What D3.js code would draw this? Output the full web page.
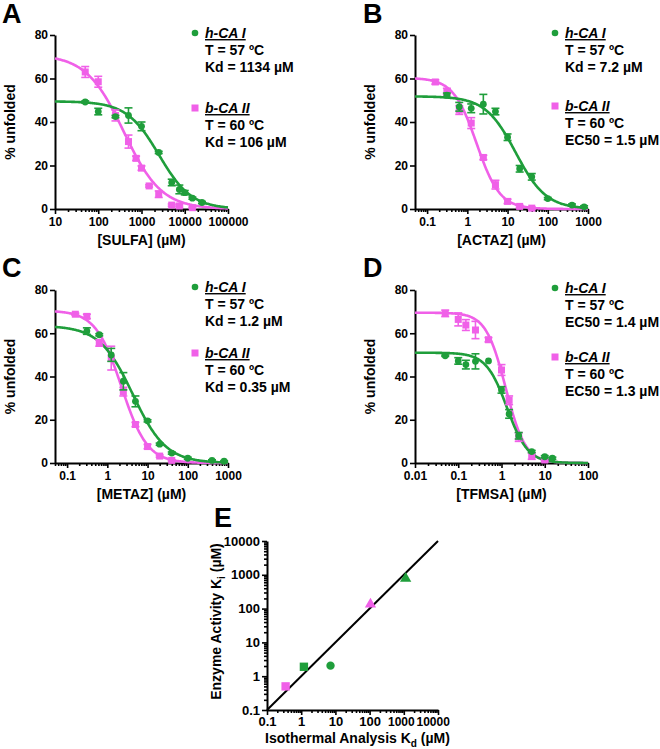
<!DOCTYPE html>
<html><head><meta charset="utf-8">
<script src="https://cdn.jsdelivr.net/npm/d3@7"></script>
<style>
body{margin:0;background:#fff;}
svg text{font-family:"Liberation Sans",Arial,Helvetica,sans-serif;font-weight:bold;}
</style></head><body>
<svg id="chart" width="660" height="749"></svg>
<script>
// ---------------- DATA ----------------
const yTicks = [0, 20, 40, 60, 80];
const sulfaTicks = [10, 100, 1000, 10000, 100000];
const actazTicks = [0.1, 1, 10, 100, 1000];
const metazTicks = [0.1, 1, 10, 100, 1000];
const tfmsaTicks = [0.01, 0.1, 1, 10, 100];
const eTicks = [0.1, 1, 10, 100, 1000, 10000];

// Panel A: SULFA
const sulfaX_h = [50, 100, 250, 500, 1000, 2500, 5000, 7500, 10000, 15000, 25000];
const sulfaY_h = [49.2, 44.8, 42.5, 43, 38, 26, 12.2, 9, 7.5, 5, 3];
const sulfaE_h = [0.5, 1.5, 0.5, 3.5, 2, 0.5, 1.5, 2, 1, 0.5, 0.5];
const sulfaX_b = [50, 100, 250, 500, 750, 1000, 1500, 2500, 5000, 7500, 15000];
const sulfaY_b = [63, 58.5, 43, 31, 23.3, 18.8, 10.6, 6.8, 1.8, 1.4, 0.6];
const sulfaE_b = [2.5, 2.5, 2.5, 3, 1, 1, 0.5, 1.5, 0.5, 0.5, 0.3];
const sulfaFit_h = [49.5, 2557, 1.155];   // top, EC50, hill
const sulfaFit_b = [71, 390, 1.0];

// Panel B: ACTAZ
const actazX_h = [0.31, 0.63, 1.25, 2.5, 5, 10, 20, 40, 100, 400, 800];
const actazY_h = [52.3, 47, 46.3, 48.2, 44.8, 33, 18.5, 14.8, 4.8, 1.8, 1.0];
const actazE_h = [1, 2, 2, 4.5, 1.5, 1.5, 1.5, 1.5, 0.5, 0.5, 0.5];
const actazX_b = [0.16, 0.31, 0.63, 1.25, 2.5, 5, 10, 20, 40];
const actazY_b = [58.4, 54, 45.5, 39.5, 23.7, 11.2, 3.5, 1.2, 0.4];
const actazE_b = [1, 1.5, 2, 2.5, 1, 2, 1, 0.5, 0.5];
const actazFit_h = [51.8, 16, 1.15];
const actazFit_b = [60.3, 1.7, 1.5];

// Panel C: METAZ
const metazX_h = [0.31, 0.63, 1.25, 2.5, 5, 10, 20, 40, 100, 400, 800];
const metazY_h = [61, 59.3, 50, 37.8, 28.5, 19.5, 8.7, 4.6, 2.2, 1.2, 0.8];
const metazE_h = [1.5, 0.5, 3, 4, 2.5, 0.5, 0.5, 0.5, 0.5, 0.3, 0.3];
const metazX_b = [0.16, 0.31, 0.63, 1.25, 2.5, 5, 10, 20, 40];
const metazY_b = [68.8, 67.8, 55.5, 48.5, 33, 17.8, 7.6, 3.2, 1.2];
const metazE_b = [0.5, 1, 1.5, 5.5, 2, 1, 1, 0.5, 0.3];
const metazFit_h = [63.5, 4.3, 1.05];
const metazFit_b = [70.5, 2.25, 1.35];

// Panel D: TFMSA
const tfmsaX_h = [0.05, 0.1, 0.15, 0.25, 0.5, 1, 1.5, 2.5, 5, 10, 15];
const tfmsaY_h = [49.6, 47.2, 45.5, 47, 47.2, 33.8, 22.7, 12.6, 5.3, 2.9, 2.2];
const tfmsaE_h = [0.3, 1.5, 2, 3.5, 0, 1.5, 2, 1.5, 0.5, 0.5, 0.5];
const tfmsaX_b = [0.05, 0.1, 0.15, 0.25, 0.5, 1, 1.5, 2.5, 5, 10];
const tfmsaY_b = [69.2, 66.4, 63.8, 61.5, 57, 43, 29, 12, 3.2, 1.4];
const tfmsaE_b = [1.5, 3, 2.5, 4, 1, 2.5, 2, 2, 1.5, 0.5];
const tfmsaFit_h = [51, 1.345, 1.8];
const tfmsaFit_b = [69.5, 1.25, 1.9];

// Legends
const legendA_h = ["h-CA I", "T = 57 ºC", "Kd = 1134 µM"];
const legendA_b = ["b-CA II", "T = 60 ºC", "Kd = 106 µM"];
const legendB_h = ["h-CA I", "T = 57 ºC", "Kd = 7.2 µM"];
const legendB_b = ["b-CA II", "T = 60 ºC", "EC50 = 1.5 µM"];
const legendC_h = ["h-CA I", "T = 57 ºC", "Kd = 1.2 µM"];
const legendC_b = ["b-CA II", "T = 60 ºC", "Kd = 0.35 µM"];
const legendD_h = ["h-CA I", "T = 57 ºC", "EC50 = 1.4 µM"];
const legendD_b = ["b-CA II", "T = 60 ºC", "EC50 = 1.3 µM"];

// Panel E
const eKd = [0.35, 1.2, 7.2, 106, 1134];
const eKi = [0.5, 1.9, 2.05, 135, 780];
const eEnzyme = ["b-CA II", "h-CA I", "h-CA I", "b-CA II", "h-CA I"];
const eShape = ["square", "square", "circle", "triangle", "triangle"];

// ---------------- DRAWING ----------------
const GREEN = "#1f9e3b", PINK = "#f060e8";
const svg = d3.select("#chart");
const isPow10 = v => Math.abs(Math.log10(v) - Math.round(Math.log10(v))) < 1e-9;
const fitVal = (xv, f) => f[0] / (1 + Math.pow(xv / f[1], f[2]));

function styleAxis(sel, fs) {
  sel.attr("font-family", null).attr("font-size", null);
  sel.selectAll(".domain").attr("stroke", "#000").attr("stroke-width", 2);
  sel.selectAll(".tick line").attr("stroke", "#000").attr("stroke-width", 1.6);
  sel.selectAll(".tick text").attr("fill", "#000").style("font-size", fs + "px");
}

function drawPanel(cfg) {
  const x = d3.scaleLog().domain(cfg.xDomain).range([cfg.left, cfg.right]);
  const y = d3.scaleLinear().domain([0, 80]).range([cfg.bottom, cfg.top]);
  const g = svg.append("g");

  const minor = x.ticks().filter(v => !isPow10(v));
  g.append("g").attr("transform", `translate(0,${cfg.bottom})`)
    .call(d3.axisBottom(x).tickValues(minor).tickSize(3).tickSizeOuter(0).tickFormat(""))
    .call(a => { styleAxis(a, 12); a.select(".domain").remove(); });
  g.append("g").attr("transform", `translate(0,${cfg.bottom})`)
    .call(d3.axisBottom(x).tickValues(cfg.xTicks).tickSize(5).tickSizeOuter(0).tickPadding(3).tickFormat(d => String(d)))
    .call(a => styleAxis(a, 12));
  g.append("g").attr("transform", `translate(${cfg.left},0)`)
    .call(d3.axisLeft(y).tickValues(yTicks).tickSize(5).tickSizeOuter(0).tickPadding(2))
    .call(a => styleAxis(a, 12));

  g.append("text").attr("x", (cfg.left + cfg.right) / 2).attr("y", cfg.bottom + 36)
    .attr("text-anchor", "middle").style("font-size", "14px").text(cfg.xTitle);
  g.append("text").attr("transform", `translate(${cfg.left - 40},${(cfg.top + cfg.bottom) / 2}) rotate(-90)`)
    .attr("text-anchor", "middle").style("font-size", "14px").text("% unfolded");
  g.append("text").attr("x", cfg.letterX).attr("y", cfg.letterY).style("font-size", "27px").text(cfg.letter);

  const logMin = Math.log10(cfg.xDomain[0]), logMax = Math.log10(cfg.xDomain[1]);
  const xs = d3.range(0, 241).map(i => Math.pow(10, logMin + (logMax - logMin) * i / 240));

  cfg.series.forEach(s => {
    g.append("path").datum(xs)
      .attr("d", d3.line().x(d => x(d)).y(d => y(fitVal(d, s.fit))))
      .attr("fill", "none").attr("stroke", s.color).attr("stroke-width", 2.6);
  });
  cfg.series.forEach(s => {
    const pts = s.x.map((xv, i) => ({ x: xv, y: s.y[i], e: s.e[i] }));
    const eb = g.append("g").attr("stroke", s.color).attr("stroke-width", 1.6);
    pts.filter(p => p.e > 0).forEach(p => {
      const cx = x(p.x);
      eb.append("line").attr("x1", cx).attr("x2", cx).attr("y1", y(p.y - p.e)).attr("y2", y(p.y + p.e));
      eb.append("line").attr("x1", cx - 4).attr("x2", cx + 4).attr("y1", y(p.y - p.e)).attr("y2", y(p.y - p.e));
      eb.append("line").attr("x1", cx - 4).attr("x2", cx + 4).attr("y1", y(p.y + p.e)).attr("y2", y(p.y + p.e));
    });
    if (s.shape === "circle") {
      g.selectAll(null).data(pts).enter().append("circle")
        .attr("cx", d => x(d.x)).attr("cy", d => y(d.y)).attr("r", 3.4).attr("fill", s.color);
    } else {
      g.selectAll(null).data(pts).enter().append("rect")
        .attr("x", d => x(d.x) - 3.5).attr("y", d => y(d.y) - 3.5).attr("width", 7).attr("height", 7).attr("fill", s.color);
    }
  });

  cfg.series.forEach((s, k) => {
    const ly = cfg.legendY[k];
    const mx = cfg.left + 140;
    if (s.shape === "circle") g.append("circle").attr("cx", mx).attr("cy", ly).attr("r", 3.3).attr("fill", s.color);
    else g.append("rect").attr("x", mx - 3.5).attr("y", ly - 3.5).attr("width", 7).attr("height", 7).attr("fill", s.color);
    s.legend.forEach((t, j) => {
      const tx = g.append("text").attr("x", mx + 10).attr("y", ly + j * 16.8).attr("dy", "0.36em")
        .style("font-size", "14px").text(t);
      if (j === 0) tx.style("font-style", "italic").style("text-decoration", "underline");
    });
  });
}

drawPanel({
  left: 55, right: 228, top: 35, bottom: 209, xDomain: [10, 100000], xTicks: sulfaTicks,
  xTitle: "[SULFA] (µM)", letter: "A", letterX: 2, letterY: 23, legendY: [108, 33],
  series: [
    { x: sulfaX_b, y: sulfaY_b, e: sulfaE_b, fit: sulfaFit_b, color: PINK, shape: "square", legend: legendA_b },
    { x: sulfaX_h, y: sulfaY_h, e: sulfaE_h, fit: sulfaFit_h, color: GREEN, shape: "circle", legend: legendA_h }
  ]
});
drawPanel({
  left: 415, right: 588, top: 35, bottom: 209, xDomain: [0.05, 1000], xTicks: actazTicks,
  xTitle: "[ACTAZ] (µM)", letter: "B", letterX: 363, letterY: 23, legendY: [106, 33],
  series: [
    { x: actazX_b, y: actazY_b, e: actazE_b, fit: actazFit_b, color: PINK, shape: "square", legend: legendB_b },
    { x: actazX_h, y: actazY_h, e: actazE_h, fit: actazFit_h, color: GREEN, shape: "circle", legend: legendB_h }
  ]
});
drawPanel({
  left: 55, right: 228, top: 290, bottom: 463, xDomain: [0.05, 1000], xTicks: metazTicks,
  xTitle: "[METAZ] (µM)", letter: "C", letterX: 2, letterY: 277, legendY: [353, 287],
  series: [
    { x: metazX_b, y: metazY_b, e: metazE_b, fit: metazFit_b, color: PINK, shape: "square", legend: legendC_b },
    { x: metazX_h, y: metazY_h, e: metazE_h, fit: metazFit_h, color: GREEN, shape: "circle", legend: legendC_h }
  ]
});
drawPanel({
  left: 415, right: 588, top: 290, bottom: 463, xDomain: [0.01, 100], xTicks: tfmsaTicks,
  xTitle: "[TFMSA] (µM)", letter: "D", letterX: 363, letterY: 277, legendY: [357, 288],
  series: [
    { x: tfmsaX_b, y: tfmsaY_b, e: tfmsaE_b, fit: tfmsaFit_b, color: PINK, shape: "square", legend: legendD_b },
    { x: tfmsaX_h, y: tfmsaY_h, e: tfmsaE_h, fit: tfmsaFit_h, color: GREEN, shape: "circle", legend: legendD_h }
  ]
});

// ---------------- PANEL E ----------------
(function () {
  const L = 267, R = 438, T = 541, B = 710;
  const ex = d3.scaleLog().domain([eTicks[0], eTicks[eTicks.length - 1]]).range([L, R]);
  const ey = d3.scaleLog().domain([eTicks[0], eTicks[eTicks.length - 1]]).range([B, T]);
  const g = svg.append("g");

  const minorX = ex.ticks().filter(v => !isPow10(v));
  const minorY = ey.ticks().filter(v => !isPow10(v));
  g.append("g").attr("transform", `translate(0,${B})`)
    .call(d3.axisBottom(ex).tickValues(minorX).tickSize(3).tickSizeOuter(0).tickFormat(""))
    .call(a => { styleAxis(a, 13); a.select(".domain").remove(); });
  g.append("g").attr("transform", `translate(0,${B})`)
    .call(d3.axisBottom(ex).tickValues(eTicks).tickSize(5).tickSizeOuter(0).tickPadding(2).tickFormat(d => String(d)))
    .call(a => {
      styleAxis(a, 13);
      a.selectAll(".tick text").filter(d => d === 1000).style("font-size", "12px").attr("dx", "-3");
      a.selectAll(".tick text").filter(d => d === 10000).style("font-size", "12px")
        .attr("text-anchor", "start").attr("dx", "-22");
    });
  g.append("g").attr("transform", `translate(${L},0)`)
    .call(d3.axisLeft(ey).tickValues(minorY).tickSize(3).tickSizeOuter(0).tickFormat(""))
    .call(a => { styleAxis(a, 13); a.select(".domain").remove(); });
  g.append("g").attr("transform", `translate(${L},0)`)
    .call(d3.axisLeft(ey).tickValues(eTicks).tickSize(5).tickSizeOuter(0).tickPadding(2).tickFormat(d => String(d)))
    .call(a => styleAxis(a, 13));

  // identity line
  const ends = [eTicks[0], eTicks[eTicks.length - 1]];
  g.append("path").datum(ends)
    .attr("d", d3.line().x(d => ex(d)).y(d => ey(d)))
    .attr("stroke", "#000").attr("stroke-width", 2).attr("fill", "none");

  const symType = { square: d3.symbolSquare, circle: d3.symbolCircle, triangle: d3.symbolTriangle };
  const symSize = { square: 70, circle: 55, triangle: 55 };
  g.selectAll(null).data(eKd.map((k, i) => i)).enter().append("path")
    .attr("transform", i => `translate(${ex(eKd[i])},${ey(eKi[i])})`)
    .attr("d", i => d3.symbol().type(symType[eShape[i]]).size(symSize[eShape[i]])())
    .attr("fill", i => eEnzyme[i] === "h-CA I" ? GREEN : PINK);

  g.append("text").attr("x", 214).attr("y", 527).style("font-size", "27px").text("E");

  const yt = g.append("text").attr("transform", `translate(${L - 46},${(T + B) / 2 - 4}) rotate(-90)`)
    .attr("text-anchor", "middle").style("font-size", "14px");
  yt.append("tspan").text("Enzyme Activity K");
  yt.append("tspan").attr("dy", 4).style("font-size", "10px").text("i");
  yt.append("tspan").attr("dy", -4).text(" (µM)");

  const xt = g.append("text").attr("x", (L + R) / 2 + 5).attr("y", B + 33)
    .attr("text-anchor", "middle").style("font-size", "14px");
  xt.append("tspan").text("Isothermal Analysis K");
  xt.append("tspan").attr("dy", 4).style("font-size", "10px").text("d");
  xt.append("tspan").attr("dy", -4).text(" (µM)");
})();
</script>
</body></html>
